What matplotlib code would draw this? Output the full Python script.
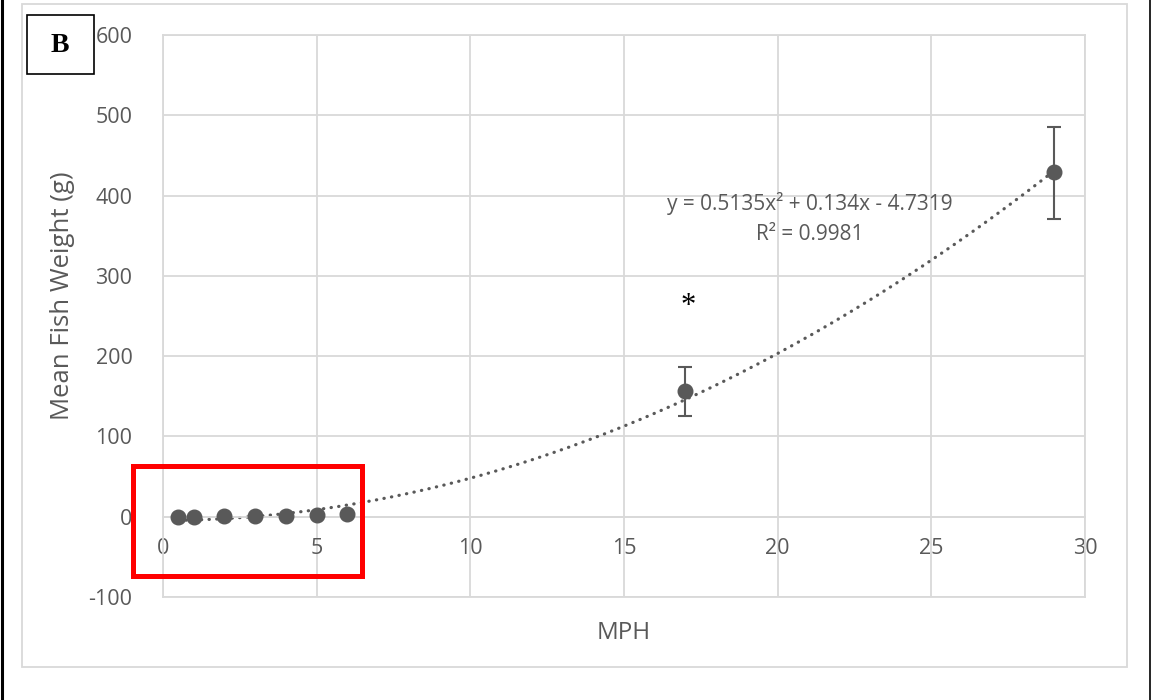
import matplotlib
matplotlib.use("Agg")
import matplotlib.pyplot as plt
import numpy as np
from matplotlib.patches import Rectangle

plt.rcParams['font.family'] = ['Open Sans', 'DejaVu Sans']
plt.rcParams['axes.unicode_minus'] = False

# data
mph = [0.5, 1, 2, 3, 4, 5, 6, 17, 29]
weight = [0.05, 0.2, 0.5, 0.9, 1.5, 2.2, 3.5, 156, 429]
err_low = [0, 0, 0, 0, 0, 0, 0, 30, 58]
err_high = [0, 0, 0, 0, 0, 0, 0, 30, 57]

# trendline coefficients as printed on the chart (a, b, c)
trend_coef = [0.5135, 0.134, -4.7319]
trend_range = [0.5, 29]

x_ticks = [0, 5, 10, 15, 20, 25, 30]
y_ticks = [-100, 0, 100, 200, 300, 400, 500, 600]

grey = '#595959'
grid = '#d9d9d9'

fig = plt.figure(figsize=(11.52, 7), dpi=100)
ax = fig.add_axes([163/1152, 103/700, 922/1152, 562/700])

ax.set_xlim(0, 30)
ax.set_ylim(-100, 600)
ax.set_xticks(x_ticks)
ax.set_yticks(y_ticks)
ax.grid(True, color=grid, lw=1.3)
ax.set_axisbelow(True)
for s in ['top', 'right', 'left']:
    ax.spines[s].set_color(grid)
    ax.spines[s].set_linewidth(1.3)
ax.spines['bottom'].set_position(('data', 0))
ax.spines['bottom'].set_color(grid)
ax.spines['bottom'].set_linewidth(1.3)
ax.axhline(-100, color=grid, lw=1.3, clip_on=False)
ax.tick_params(length=0, labelsize=15.5, labelcolor=grey)
ax.tick_params(axis='x', pad=15)
ax.tick_params(axis='y', pad=22)

# trendline
xt = np.linspace(trend_range[0], trend_range[1], 300)
yt = np.polyval(trend_coef, xt)
ax.plot(xt, yt, color=grey, lw=2.3, linestyle=(0, (0.1, 2.3)),
        dash_capstyle='round', zorder=2)

# points with error bars
ax.errorbar(mph, weight, yerr=[err_low, err_high], fmt='o', color=grey,
            ms=10.5, ecolor=grey, elinewidth=1.5, capsize=5, capthick=1.5,
            zorder=3)

ax.text(21.05, 390, 'y = 0.5135x² + 0.134x - 4.7319', ha='center', va='center',
        fontsize=15, color=grey)
ax.text(21.05, 352, 'R² = 0.9981', ha='center', va='center',
        fontsize=15, color=grey)
ax.text(17.1, 262, '*', ha='center', va='center', fontsize=22,
        family='Liberation Serif',
        bbox=dict(facecolor='white', edgecolor='none', pad=5))

ax.set_xlabel('MPH', fontsize=17.5, color=grey)
ax.set_ylabel('Mean Fish Weight (g)', fontsize=18.5, color=grey)
ax.xaxis.set_label_coords(0.5, -0.042)
ax.yaxis.set_label_coords(-88/922, (597-296)/562)

# red highlight box
ax.add_patch(Rectangle((-0.98, -73.5), 7.46, 137, fill=False, edgecolor='#ff0000',
                       lw=3.6, clip_on=False, zorder=4))

# outer chart border and panel label
fig.add_artist(Rectangle((22/1152, 33/700), 1105/1152, 663/700, fill=False,
                         edgecolor=grid, lw=1.3, transform=fig.transFigure))
fig.add_artist(Rectangle((27/1152, 626/700), 67/1152, 59/700, fill=False,
                         edgecolor='black', lw=1.2, transform=fig.transFigure))
fig.text(60/1152, 655/700, 'B', ha='center', va='center', fontsize=20,
         fontweight='bold', family='Liberation Serif')
fig.add_artist(plt.Line2D([2/1152, 2/1152], [0, 1], color='black', lw=2.2,
                          transform=fig.transFigure))
fig.add_artist(plt.Line2D([1150/1152, 1150/1152], [0, 1], color='black', lw=1.2,
                          transform=fig.transFigure))

fig.savefig('out.png', dpi=100)
